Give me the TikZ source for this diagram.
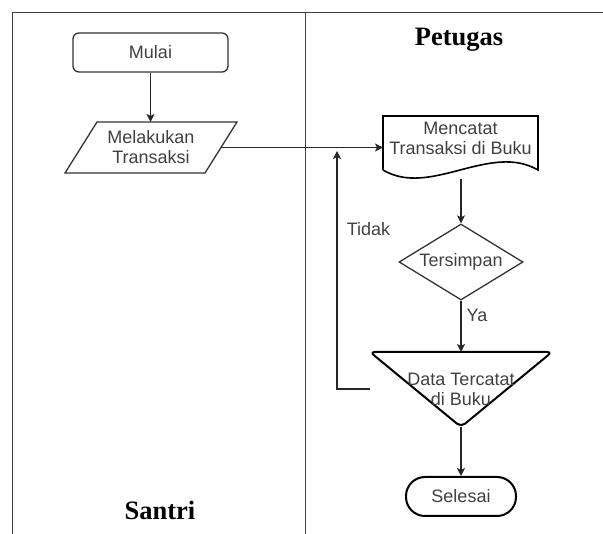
\documentclass[tikz,border=0pt]{standalone}
\usepackage{fontspec}
\setmainfont{Liberation Sans}
\newfontfamily\titlefont{Liberation Serif}
\usetikzlibrary{shapes.geometric,arrows.meta,calc}
\tikzset{
  lane/.style={draw=black!75, line width=1pt},
  lbl/.style={text=black!75, font=\fontsize{18}{20}\selectfont, align=center, inner sep=0pt},
  ttl/.style={font=\titlefont\bfseries\fontsize{26.5}{30}\selectfont, inner sep=0pt},
  hidden/.style={inner sep=0pt, outer sep=0pt},
  conn/.style={draw=black!85, line width=1.2pt, -{Stealth[length=8pt,width=8pt,inset=2pt]}},
  shp/.style={draw=black!80, line width=1.3pt},
  thick shp/.style={draw=black, line width=2pt},
}
\begin{document}
\begin{tikzpicture}[x=1pt,y=-1pt]
\useasboundingbox (0,0) rectangle (603,534);
% lanes
\draw[lane] (12,534) -- (12,13) -- (603,13);
\draw[lane] (305,13) -- (305,534);
\node[ttl] (petugas) at (459,40) {Petugas};
\node[ttl] (santri) at (160,510) {Santri};
% Mulai
\node[lbl, shp, rounded corners=6pt, minimum width=155pt, minimum height=39pt] (mulai) at (150.5,52.5) {Mulai};
% input parallelogram
\node[hidden, minimum width=172pt, minimum height=51pt] (inp) at (151,147.5) {};
\draw[shp] ([xshift=32pt]inp.north west) -- (inp.north east) -- ([xshift=-32pt]inp.south east) -- (inp.south west) -- cycle;
\node[lbl] (inptxt) at (151,147.5) {Melakukan\\Transaksi};
% document
\node[hidden, minimum width=155pt, minimum height=63pt] (doc) at (460.5,147.5) {};
\draw[draw=black, line width=1.6pt] (383,170) -- (383,116) -- (538,116) -- (538,170) .. controls (490,142) and (430,198) .. (383,170);
\node[lbl] (doctxt) at (460.5,138) {Mencatat\\Transaksi di Buku};
% decision
\node[lbl, shp, shape=diamond, aspect=1.63, minimum width=124pt, minimum height=76pt] (dec) at (461,262) {Tersimpan};
% triangle
\node[hidden, minimum width=182pt, minimum height=75pt] (tri) at (461,389.5) {};
\draw[thick shp, rounded corners=5pt] (tri.north west) -- (tri.north east) -- (tri.south) -- cycle;
\node[lbl] (tritxt) at (461,389) {Data Tercatat\\di Buku};
% end
\node[lbl, thick shp, rounded corners=19pt, minimum width=110pt, minimum height=39pt] (end) at (461,496.5) {Selesai};
% connectors
\draw[conn] (mulai.south) -- (inp.north -| mulai.south);
\draw[conn] ([xshift=-16pt]inp.east) -- (doc.west);
\draw[conn] ([xshift=0.5pt]doc.south) -- (dec.north);
\draw[conn] (dec.south) -- (tri.north);
\draw[conn] (tri.south) -- (end.north);
\coordinate (ret) at (337,389);
\coordinate (rettop) at (337,151);
\draw[conn] (tri.west |- ret) -- (ret) -- (rettop);
\node[lbl] (tidak) at (368.5,229) {Tidak};
\node[lbl] (ya) at (477,315) {Ya};
\end{tikzpicture}
\end{document}
